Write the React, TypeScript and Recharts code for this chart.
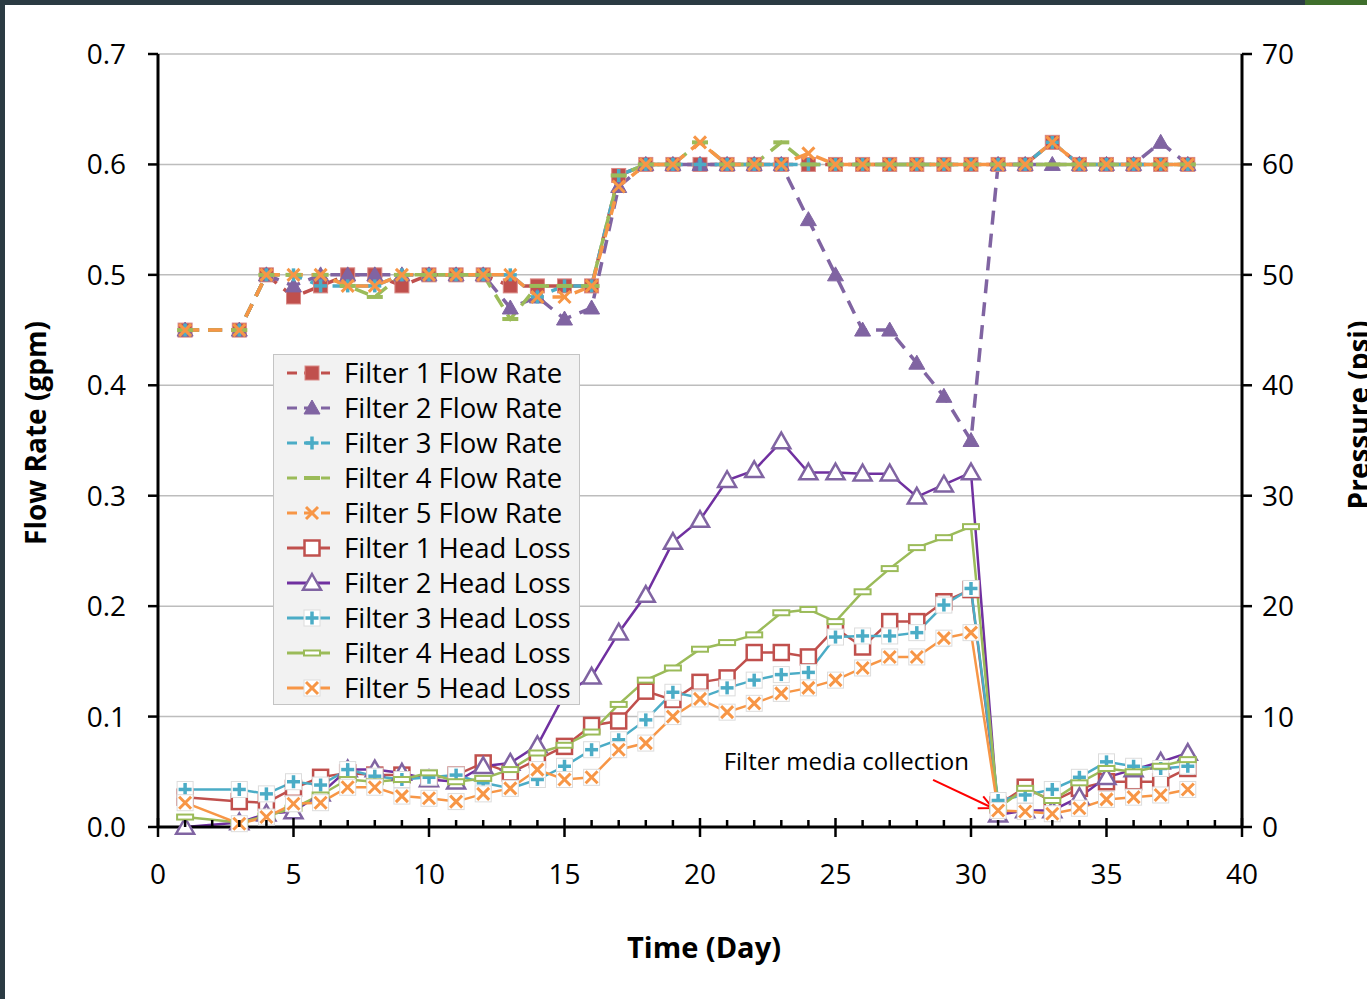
import { LineChart, Line, XAxis, YAxis, CartesianGrid, Legend, ReferenceLine, ReferenceDot } from "recharts"

// days with readings (no reading on day 2)
const days = [1, 3, 4, 5, 6, 7, 8, 9, 10, 11, 12, 13, 14, 15, 16, 17, 18, 19, 20, 21, 22, 23, 24, 25, 26, 27, 28, 29, 30, 31, 32, 33, 34, 35, 36, 37, 38]

// flow rate, gpm (left axis)
const flow1 = [0.45, 0.45, 0.5, 0.48, 0.49, 0.5, 0.5, 0.49, 0.5, 0.5, 0.5, 0.49, 0.49, 0.49, 0.49, 0.59, 0.6, 0.6, 0.6, 0.6, 0.6, 0.6, 0.6, 0.6, 0.6, 0.6, 0.6, 0.6, 0.6, 0.6, 0.6, 0.62, 0.6, 0.6, 0.6, 0.6, 0.6]
const flow2 = [0.45, 0.45, 0.5, 0.49, 0.5, 0.5, 0.5, 0.5, 0.5, 0.5, 0.5, 0.47, 0.48, 0.46, 0.47, 0.58, 0.6, 0.6, 0.6, 0.6, 0.6, 0.6, 0.55, 0.5, 0.45, 0.45, 0.42, 0.39, 0.35, 0.6, 0.6, 0.6, 0.6, 0.6, 0.6, 0.62, 0.6]
const flow3 = [0.45, 0.45, 0.5, 0.5, 0.49, 0.49, 0.49, 0.5, 0.5, 0.5, 0.5, 0.5, 0.48, 0.49, 0.49, 0.59, 0.6, 0.6, 0.6, 0.6, 0.6, 0.6, 0.6, 0.6, 0.6, 0.6, 0.6, 0.6, 0.6, 0.6, 0.6, 0.62, 0.6, 0.6, 0.6, 0.6, 0.6]
const flow4 = [0.45, 0.45, 0.5, 0.5, 0.5, 0.49, 0.48, 0.5, 0.5, 0.5, 0.5, 0.46, 0.49, 0.49, 0.49, 0.59, 0.6, 0.6, 0.62, 0.6, 0.6, 0.62, 0.6, 0.6, 0.6, 0.6, 0.6, 0.6, 0.6, 0.6, 0.6, 0.6, 0.6, 0.6, 0.6, 0.6, 0.6]
const flow5 = [0.45, 0.45, 0.5, 0.5, 0.5, 0.49, 0.49, 0.5, 0.5, 0.5, 0.5, 0.5, 0.48, 0.48, 0.49, 0.58, 0.6, 0.6, 0.62, 0.6, 0.6, 0.6, 0.61, 0.6, 0.6, 0.6, 0.6, 0.6, 0.6, 0.6, 0.6, 0.62, 0.6, 0.6, 0.6, 0.6, 0.6]

// head loss, psi (right axis)
const head1 = [2.7, 2.3, 2.2, 3.5, 4.5, 4.9, 4.7, 4.7, 4.4, 4.7, 5.8, 4.9, 6.1, 7.3, 9.2, 9.6, 12.3, 11.5, 13.1, 13.5, 15.8, 15.8, 15.4, 18.0, 16.3, 18.6, 18.6, 20.4, 21.5, 2.0, 3.6, 2.3, 3.5, 4.1, 4.1, 4.1, 5.3]
const head2 = [0.0, 0.4, 1.2, 1.4, 3.0, 5.2, 5.2, 4.9, 4.3, 4.1, 5.5, 5.8, 7.4, 12.0, 13.6, 17.6, 21.0, 25.8, 27.8, 31.4, 32.3, 34.9, 32.1, 32.1, 32.0, 32.0, 29.9, 31.0, 32.1, 1.1, 1.5, 1.5, 2.7, 4.5, 5.2, 5.9, 6.7]
const head3 = [3.4, 3.4, 3.0, 4.1, 3.8, 5.2, 4.6, 4.3, 4.5, 4.7, 4.0, 3.5, 4.3, 5.5, 7.0, 7.9, 9.7, 12.2, 11.7, 12.6, 13.3, 13.8, 14.0, 17.2, 17.3, 17.3, 17.6, 20.1, 21.6, 2.4, 2.9, 3.4, 4.5, 5.9, 5.5, 5.3, 5.5]
const head4 = [0.9, 0.4, 1.0, 1.7, 2.9, 4.3, 4.1, 4.3, 4.9, 4.1, 4.4, 5.2, 6.7, 7.4, 8.6, 11.1, 13.3, 14.4, 16.1, 16.7, 17.4, 19.4, 19.7, 18.6, 21.3, 23.4, 25.3, 26.2, 27.2, 1.7, 3.5, 2.4, 4.0, 5.3, 5.0, 5.5, 6.1]
const head5 = [2.2, 0.3, 0.9, 2.1, 2.2, 3.6, 3.6, 2.8, 2.6, 2.3, 3.0, 3.5, 5.2, 4.3, 4.5, 7.0, 7.6, 10.0, 11.6, 10.4, 11.2, 12.1, 12.6, 13.3, 14.4, 15.4, 15.4, 17.1, 17.6, 1.5, 1.4, 1.2, 1.7, 2.5, 2.7, 2.9, 3.4]

const flowTicks = [0, 0.1, 0.2, 0.3, 0.4, 0.5, 0.6, 0.7]
const psiTicks = [0, 10, 20, 30, 40, 50, 60, 70]
const dayTicks = Array.from({ length: 41 }, (_, i) => i)

const note = "Filter media collection"

const RED = "#c0504d"
const PURPLE = "#8064a2"
const CYAN = "#4bacc6"
const GREEN = "#9bbb59"
const ORANGE = "#f79646"

const series = [
  { key: "f1", name: "Filter 1 Flow Rate", axis: "flow", color: RED, line: RED, marker: "square", open: false },
  { key: "f2", name: "Filter 2 Flow Rate", axis: "flow", color: PURPLE, line: PURPLE, marker: "triangle", open: false },
  { key: "f3", name: "Filter 3 Flow Rate", axis: "flow", color: CYAN, line: CYAN, marker: "plus", open: false },
  { key: "f4", name: "Filter 4 Flow Rate", axis: "flow", color: GREEN, line: GREEN, marker: "dash", open: false },
  { key: "f5", name: "Filter 5 Flow Rate", axis: "flow", color: ORANGE, line: ORANGE, marker: "x", open: false },
  { key: "h1", name: "Filter 1 Head Loss", axis: "psi", color: RED, line: RED, marker: "square", open: true },
  { key: "h2", name: "Filter 2 Head Loss", axis: "psi", color: PURPLE, line: "#7030a0", marker: "triangle", open: true },
  { key: "h3", name: "Filter 3 Head Loss", axis: "psi", color: CYAN, line: CYAN, marker: "plus", open: true },
  { key: "h4", name: "Filter 4 Head Loss", axis: "psi", color: GREEN, line: GREEN, marker: "dash", open: true },
  { key: "h5", name: "Filter 5 Head Loss", axis: "psi", color: ORANGE, line: ORANGE, marker: "x", open: true },
]

const rows = days.map((day, i) => ({
  day,
  f1: flow1[i], f2: flow2[i], f3: flow3[i], f4: flow4[i], f5: flow5[i],
  h1: head1[i], h2: head2[i], h3: head3[i], h4: head4[i], h5: head5[i],
}))

function Marker({ kind, open, color, cx, cy }: any) {
  if (cx == null || cy == null) return null
  const bg = open ? <rect x={cx - 8} y={cy - 8} width={16} height={16} fill="#fff" stroke="#dcdcdc" strokeWidth={1} /> : null
  if (kind === "square") {
    return open
      ? <rect x={cx - 7.5} y={cy - 7.5} width={15} height={15} fill="#fff" stroke={color} strokeWidth={2.5} />
      : <rect x={cx - 7} y={cy - 7} width={14} height={14} fill={color} stroke="#d98986" strokeWidth={1} />
  }
  if (kind === "triangle") {
    const s = open ? 9 : 8
    const pts = `${cx},${cy - s} ${cx + s},${cy + s * 0.75} ${cx - s},${cy + s * 0.75}`
    return open
      ? <polygon points={pts} fill="#fff" stroke={color} strokeWidth={2.5} />
      : <polygon points={pts} fill={color} stroke={color} strokeWidth={1} />
  }
  if (kind === "plus") {
    return (
      <g>
        {bg}
        <line x1={cx - 6.5} x2={cx + 6.5} y1={cy} y2={cy} stroke={color} strokeWidth={3.5} />
        <line x1={cx} x2={cx} y1={cy - 6.5} y2={cy + 6.5} stroke={color} strokeWidth={3.5} />
      </g>
    )
  }
  if (kind === "dash") {
    return open
      ? <rect x={cx - 8} y={cy - 2.5} width={16} height={5} fill="#fff" stroke={color} strokeWidth={2} />
      : <rect x={cx - 8} y={cy - 2} width={16} height={4} fill={color} />
  }
  return (
    <g>
      {bg}
      <line x1={cx - 6} x2={cx + 6} y1={cy - 6} y2={cy + 6} stroke={color} strokeWidth={3} />
      <line x1={cx - 6} x2={cx + 6} y1={cy + 6} y2={cy - 6} stroke={color} strokeWidth={3} />
    </g>
  )
}

function DayTick({ x, y, payload }: any) {
  const v = payload.value
  const major = v % 5 === 0
  return (
    <g>
      <line x1={x} x2={x} y1={major ? y - 9 : y - 7} y2={major ? y + 10 : y} stroke="#000" strokeWidth={2.5} />
      {major && (
        <text x={x} y={y + 57} textAnchor="middle" fontSize={28} fill="#000">{v}</text>
      )}
    </g>
  )
}

function Arrow({ x1, y1, x2, y2 }: any) {
  const a = Math.atan2(y2 - y1, x2 - x1)
  const len = 15
  const spread = 0.45
  const p1 = [x2 - len * Math.cos(a - spread), y2 - len * Math.sin(a - spread)]
  const p2 = [x2 - len * Math.cos(a + spread), y2 - len * Math.sin(a + spread)]
  return (
    <g>
      <line x1={x1} y1={y1} x2={x2} y2={y2} stroke="#ff0000" strokeWidth={2} />
      <polyline points={`${p1[0]},${p1[1]} ${x2},${y2} ${p2[0]},${p2[1]}`} fill="none" stroke="#ff0000" strokeWidth={2} />
    </g>
  )
}

function LegendBox() {
  return (
    <div style={{ width: 307, height: 351, background: "#f2f2f2", border: "1px solid #c4c4c4", boxSizing: "border-box" }}>
      {series.map((s) => (
        <div key={s.key} style={{ height: 35, display: "flex", alignItems: "center", paddingLeft: 11 }}>
          <svg width={48} height={30} style={{ display: "block" }}>
            <line x1={2} x2={45} y1={15} y2={15} stroke={s.line} strokeWidth={3} strokeDasharray={s.open ? undefined : "10 7"} />
            <Marker kind={s.marker} open={s.open} color={s.color} cx={27} cy={15} />
          </svg>
          <span style={{ marginLeft: 11, fontSize: 27.5, lineHeight: "30px", color: "#000", whiteSpace: "nowrap" }}>{s.name}</span>
        </div>
      ))}
    </div>
  )
}

export default function App() {
  return (
    <div style={{ position: "absolute", left: 0, top: 0, width: 1367, height: 999, background: "#fff", overflow: "hidden", fontFamily: "'Open Sans', sans-serif" }}>
      <div style={{ position: "absolute", left: 0, top: 0, width: 1367, height: 5, background: "#2b3b43" }} />
      <div style={{ position: "absolute", left: 1305, top: 0, width: 62, height: 5, background: "#3f6f2c" }} />
      <div style={{ position: "absolute", left: 0, top: 0, width: 5, height: 999, background: "#2b3b43" }} />
      <LineChart width={1367} height={999} data={rows} margin={{ top: 54, right: 45, bottom: 112, left: 78 }}>
        <CartesianGrid yAxisId="flow" vertical={false} stroke="#bdbdbd" strokeWidth={1.5} />
        <XAxis
          dataKey="day"
          type="number"
          domain={[0, 40]}
          ticks={dayTicks}
          interval={0}
          height={60}
          tickSize={0}
          tickMargin={0}
          tickLine={false}
          axisLine={{ stroke: "#000", strokeWidth: 3 }}
          tick={<DayTick />}
          label={() => (
            <text x={704} y={946} textAnchor="middle" dominantBaseline="central" fontSize={29} fontWeight={700} fill="#000">Time (Day)</text>
          )}
        />
        <YAxis
          yAxisId="flow"
          orientation="left"
          width={80}
          domain={[0, 0.7]}
          ticks={flowTicks}
          tickFormatter={(v: number) => v.toFixed(1)}
          tickSize={10}
          tickMargin={22}
          tick={{ fontSize: 28, fill: "#000" }}
          tickLine={{ stroke: "#000", strokeWidth: 2.5 }}
          axisLine={{ stroke: "#000", strokeWidth: 3 }}
          label={() => (
            <text x={35} y={433} transform="rotate(-90 35 433)" textAnchor="middle" dominantBaseline="central" fontSize={28} fontWeight={700} fill="#000">Flow Rate (gpm)</text>
          )}
        />
        <YAxis
          yAxisId="psi"
          orientation="right"
          width={80}
          domain={[0, 70]}
          ticks={psiTicks}
          tickSize={10}
          tickMargin={10}
          tick={{ fontSize: 28, fill: "#000", textAnchor: "start" }}
          tickLine={{ stroke: "#000", strokeWidth: 2.5 }}
          axisLine={{ stroke: "#000", strokeWidth: 3 }}
          label={() => (
            <text x={1358} y={415} transform="rotate(-90 1358 415)" textAnchor="middle" dominantBaseline="central" fontSize={28} fontWeight={700} fill="#000">Pressure (psi)</text>
          )}
        />
        {series.map((s) => (
          <Line
            key={s.key}
            yAxisId={s.axis}
            dataKey={s.key}
            name={s.name}
            type="linear"
            stroke={s.line}
            strokeWidth={s.open ? 2.5 : 3.5}
            strokeDasharray={s.open ? undefined : "14 9"}
            isAnimationActive={false}
            activeDot={false}
            dot={(p: any) => (
              <Marker key={`${s.key}-${p.index}`} kind={s.marker} open={s.open} color={s.color} cx={p.cx} cy={p.cy} />
            )}
          />
        ))}
        <ReferenceLine
          yAxisId="flow"
          segment={[{ x: 28.6, y: 0.0426 }, { x: 30.8, y: 0.0172 }]}
          shape={(p: any) => <Arrow {...p} />}
        />
        <ReferenceDot
          yAxisId="flow"
          x={25.4}
          y={0.0597}
          r={0}
          fill="none"
          stroke="none"
          label={{ value: note, position: "center", fontSize: 24, fill: "#000" }}
        />
        <Legend
          layout="vertical"
          align="center"
          verticalAlign="middle"
          wrapperStyle={{ left: 273, top: 354, width: 307, height: 351 }}
          content={() => <LegendBox />}
        />
      </LineChart>
    </div>
  )
}
